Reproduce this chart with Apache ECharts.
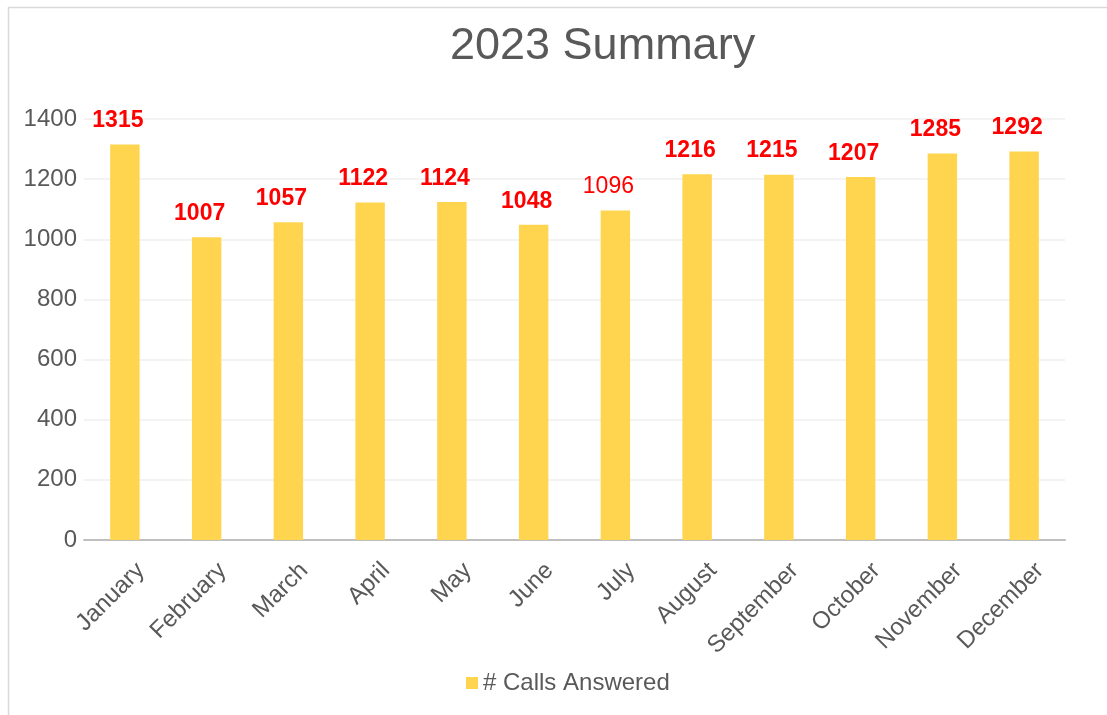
<!DOCTYPE html>
<html>
<head>
<meta charset="utf-8">
<script src="https://cdn.jsdelivr.net/npm/echarts@6/dist/echarts.min.js"></script>
<style>
html,body{margin:0;padding:0;background:#fff;}
#c{width:1107px;height:715px;}
</style>
</head>
<body>
<div id="c"></div>
<script>
const titleText = "2023 Summary";
const seriesName = "# Calls Answered";
const categories = ["January","February","March","April","May","June","July","August","September","October","November","December"];
const values = [1315,1007,1057,1122,1124,1048,1096,1216,1215,1207,1285,1292];
const boldLabels = [true,true,true,true,true,true,false,true,true,true,true,true];
const yTicks = [0,200,400,600,800,1000,1200,1400];

const chart = echarts.init(document.getElementById('c'), null, {renderer:'canvas'});
const font = 'Arial, "Liberation Sans", sans-serif';
chart.setOption({
  animation:false,
  backgroundColor:'#fff',
  graphic:[{type:'rect',shape:{x:8.5,y:7.5,width:1200,height:800},style:{fill:'none',stroke:'#d9d9d9',lineWidth:1.5},silent:true}],
  title:{text:titleText,left:450,top:24,padding:0,textStyle:{fontFamily:font,fontSize:45,fontWeight:'normal',color:'#595959'}},
  legend:{top:671,left:466,padding:0,itemWidth:12,itemHeight:12,itemGap:5,icon:'rect',data:[seriesName],textStyle:{fontFamily:font,fontSize:24,color:'#595959'}},
  grid:{left:84,right:42,top:119,bottom:175,containLabel:false},
  xAxis:{type:'category',data:categories,
    axisLine:{lineStyle:{color:'#bfbfbf',width:2}},axisTick:{show:false},
    axisLabel:{rotate:45,fontFamily:font,fontSize:24,color:'#595959',margin:11,interval:0,verticalAlign:'top',lineHeight:45}},
  yAxis:{type:'value',min:yTicks[0],max:yTicks[yTicks.length-1],interval:200,
    axisLine:{show:false},axisTick:{show:false},
    splitLine:{lineStyle:{color:'#efefef',width:1.5}},
    axisLabel:{fontFamily:font,fontSize:24,color:'#595959',margin:7,formatter:v=>String(v)}},
  series:[{name:seriesName,type:'bar',barWidth:'36%',
    itemStyle:{color:'#ffd44f'},
    data:values.map((v,i)=>({value:v,label:{fontWeight:boldLabels[i]?'bold':'normal'}})),
    label:{show:true,position:'top',distance:12,offset:[-7,0],fontFamily:font,fontSize:23,color:'#ff0000'}}]
});
</script>
</body>
</html>
